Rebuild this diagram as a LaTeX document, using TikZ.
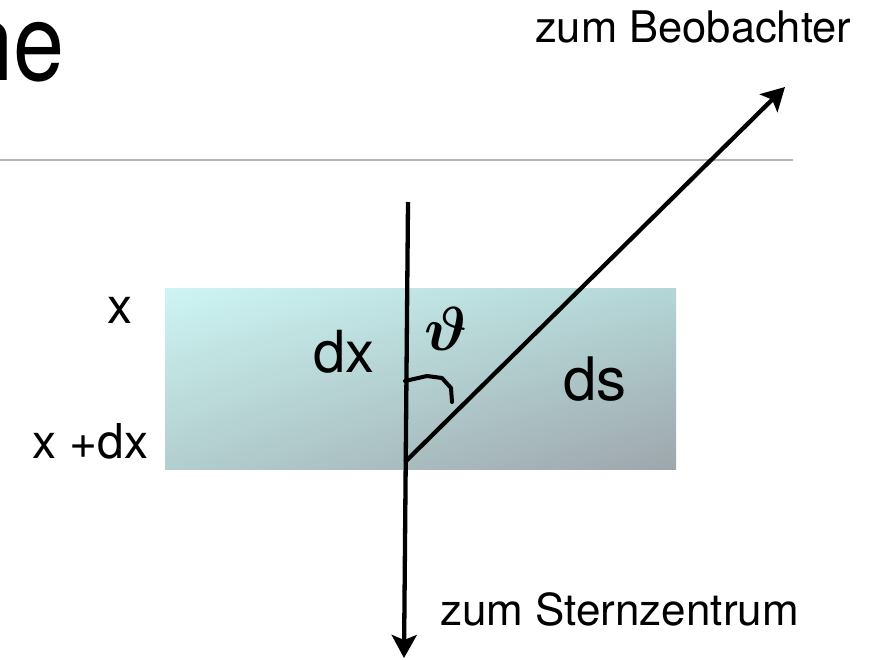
\documentclass[tikz,border=0pt]{standalone}
\usepackage{amsmath}
\usepackage{fontspec}
\setmainfont{TeX Gyre Heros}
\usepackage{xcolor}
\usetikzlibrary{arrows.meta,shadings}

\definecolor{slabUL}{RGB}{205,245,243}
\definecolor{slabUR}{RGB}{180,214,214}
\definecolor{slabLL}{RGB}{178,206,206}
\definecolor{slabLR}{RGB}{158,166,172}
\definecolor{ruleGray}{RGB}{180,180,180}

\begin{document}
\begin{tikzpicture}[
    x=1pt, y=-1pt,
    txt/.style={inner sep=0pt, anchor=base west},
    ray/.style={-{Stealth[length=23pt, width=25pt, inset=5pt]}, line width=4.3pt},
    anglemark/.style={line width=4pt, line cap=round, line join=round}
]
\useasboundingbox (0,0) rectangle (883,660);
\clip (0,0) rectangle (883,660);

\node[txt, anchor=base east, xscale=0.85, font=\fontsize{108}{112}\selectfont] (title) at (65,81) {ne};
\draw[ruleGray, line width=2.5pt] (0,160) -- (793,160);

\shade[upper left=slabUL, upper right=slabUR, lower left=slabLL, lower right=slabLR]
    (165,288) rectangle (676,469);

\coordinate (top)    at (408,202);
\coordinate (bottom) at (404,658);
\coordinate (origin) at (405,462);
\coordinate (obs)    at (785,87);
\coordinate (arcA)   at (405,381);
\coordinate (arcB)   at (452,402);

\draw[ray] (top) -- (bottom);
\draw[ray] (origin) -- (obs);
\draw[anglemark] (arcA) -- (427,376) -- (442,378) -- (451,388) -- (arcB);

\node[txt, font=\fontsize{43.5}{46}\selectfont] (beob) at (535,43) {zum Beobachter};
\node[txt, font=\fontsize{44}{46}\selectfont] (stern) at (440,625) {zum Sternzentrum};
\node[txt, font=\fontsize{50}{52}\selectfont] (xtop) at (107,323) {x};
\node[txt, font=\fontsize{48}{50}\selectfont] (xbot) at (32,458) {x +dx};
\node[txt, font=\fontsize{58}{60}\selectfont] (dx) at (313,372) {dx};
\node[txt, font=\fontsize{60}{62}\selectfont] (ds) at (563,400) {ds};
\node[inner sep=0pt, anchor=base, scale=2.5] (theta) at (446,350) {\Huge$\boldsymbol{\vartheta}$};
\end{tikzpicture}
\end{document}
